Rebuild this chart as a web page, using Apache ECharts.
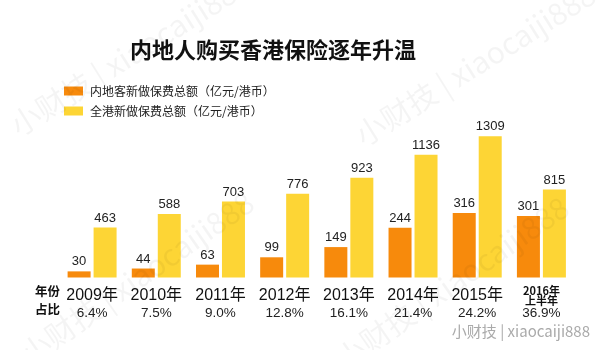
<!DOCTYPE html>
<html>
<head>
<meta charset="utf-8">
<script src="https://cdn.jsdelivr.net/npm/echarts@6/dist/echarts.min.js"></script>
<style>html,body{margin:0;padding:0;background:#fff;}#c{width:600px;height:350px;}</style>
</head>
<body>
<div id="c"></div>
<script>
var years = ['2009年','2010年','2011年','2012年','2013年','2014年','2015年','2016年\n上半年'];
var shares = ['6.4%','7.5%','9.0%','12.8%','16.1%','21.4%','24.2%','36.9%'];
var mainland = [30, 44, 63, 99, 149, 244, 316, 301];
var hongkong = [463, 588, 703, 776, 923, 1136, 1309, 815];
var seriesNames = ['内地客新做保费总额（亿元/港币）', '全港新做保费总额（亿元/港币）'];

var CJK = '"Noto Sans CJK SC", "Liberation Sans", sans-serif';
var NUM = '"Liberation Sans", Arial, "Noto Sans CJK SC", sans-serif';

var chart = echarts.init(document.getElementById('c'), null, {renderer: 'canvas'});
var wm = 'rgba(0,0,0,0.045)';
var wmText = '小财技 | xiaocaiji888';
var option = {
  backgroundColor: '#ffffff',
  animation: false,
  title: {
    text: '内地人购买香港保险逐年升温',
    left: 125, top: 34,
    textStyle: {fontFamily: CJK, fontSize: 22, fontWeight: 'bold', color: '#111'}
  },
  legend: {
    orient: 'vertical', left: 59, top: 80,
    itemWidth: 19, itemHeight: 9, itemGap: 8,
    icon: 'rect',
    textStyle: {fontFamily: CJK, fontSize: 12, color: '#222', padding: [0,0,0,2]},
    data: seriesNames
  },
  grid: {left: 60, right: 26.5, top: 128.5, bottom: 72.5},
  xAxis: {
    type: 'category',
    data: years,
    axisLine: {show: false}, axisTick: {show: false},
    axisLabel: {
      interval: 0, margin: 8,
      formatter: function (v, i) {
        if (v.indexOf('\n') >= 0) {
          var parts = v.split('\n');
          return '{s|' + parts[0] + '}\n{s|' + parts[1] + '}\n{p|' + shares[i] + '}';
        }
        return '{y|' + v + '}\n{p|' + shares[i] + '}';
      },
      rich: {
        y: {fontFamily: NUM, fontSize: 16, lineHeight: 20, color: '#111'},
        s: {fontFamily: CJK, fontSize: 11, lineHeight: 10, color: '#111', fontWeight: 'bold'},
        p: {fontFamily: NUM, fontSize: 13.5, lineHeight: 16, color: '#222'}
      }
    }
  },
  yAxis: [
    {type: 'value', min: 0, max: 1380, show: false, splitLine: {show: false}},
    {type: 'value', min: 0, max: 730, show: false, splitLine: {show: false}}
  ],
  series: [
    {
      name: seriesNames[0], type: 'bar', data: mainland, yAxisIndex: 1,
      barWidth: 23, barGap: '13%',
      itemStyle: {color: '#F78A0C'},
      label: {show: true, position: 'top', distance: 3, fontFamily: NUM, fontSize: 13, color: '#222'}
    },
    {
      name: seriesNames[1], type: 'bar', data: hongkong, yAxisIndex: 0,
      barWidth: 23, barGap: '13%',
      itemStyle: {color: '#FDD535'},
      label: {show: true, position: 'top', distance: 3, fontFamily: NUM, fontSize: 13, color: '#222'}
    }
  ],
  graphic: [
    {type: 'text', left: 35, top: 285, style: {text: '年份', fontFamily: CJK, fontSize: 12.5, fontWeight: 'bold', fill: '#111'}},
    {type: 'text', left: 35, top: 303, style: {text: '占比', fontFamily: CJK, fontSize: 12.5, fontWeight: 'bold', fill: '#111'}},
    {type: 'text', right: 10, top: 324, style: {text: '小财技 | xiaocaiji888', fontFamily: CJK, fontSize: 15, fill: '#aaaaaa'}},
    {type: 'text', x: 5, y: 115, rotation: Math.PI * 32 / 180, z: 100, silent: true,
      style: {text: wmText, fontFamily: CJK, fontSize: 30, fill: wm}},
    {type: 'text', x: 350, y: 125, rotation: Math.PI * 32 / 180, z: 100, silent: true,
      style: {text: wmText, fontFamily: CJK, fontSize: 30, fill: wm}},
    {type: 'text', x: 15, y: 345, rotation: Math.PI * 35 / 180, z: 100, silent: true,
      style: {text: wmText, fontFamily: CJK, fontSize: 30, fill: wm}},
    {type: 'text', x: 330, y: 350, rotation: Math.PI * 35 / 180, z: 100, silent: true,
      style: {text: wmText, fontFamily: CJK, fontSize: 30, fill: wm}}
  ]
};
chart.setOption(option);
</script>
</body>
</html>
